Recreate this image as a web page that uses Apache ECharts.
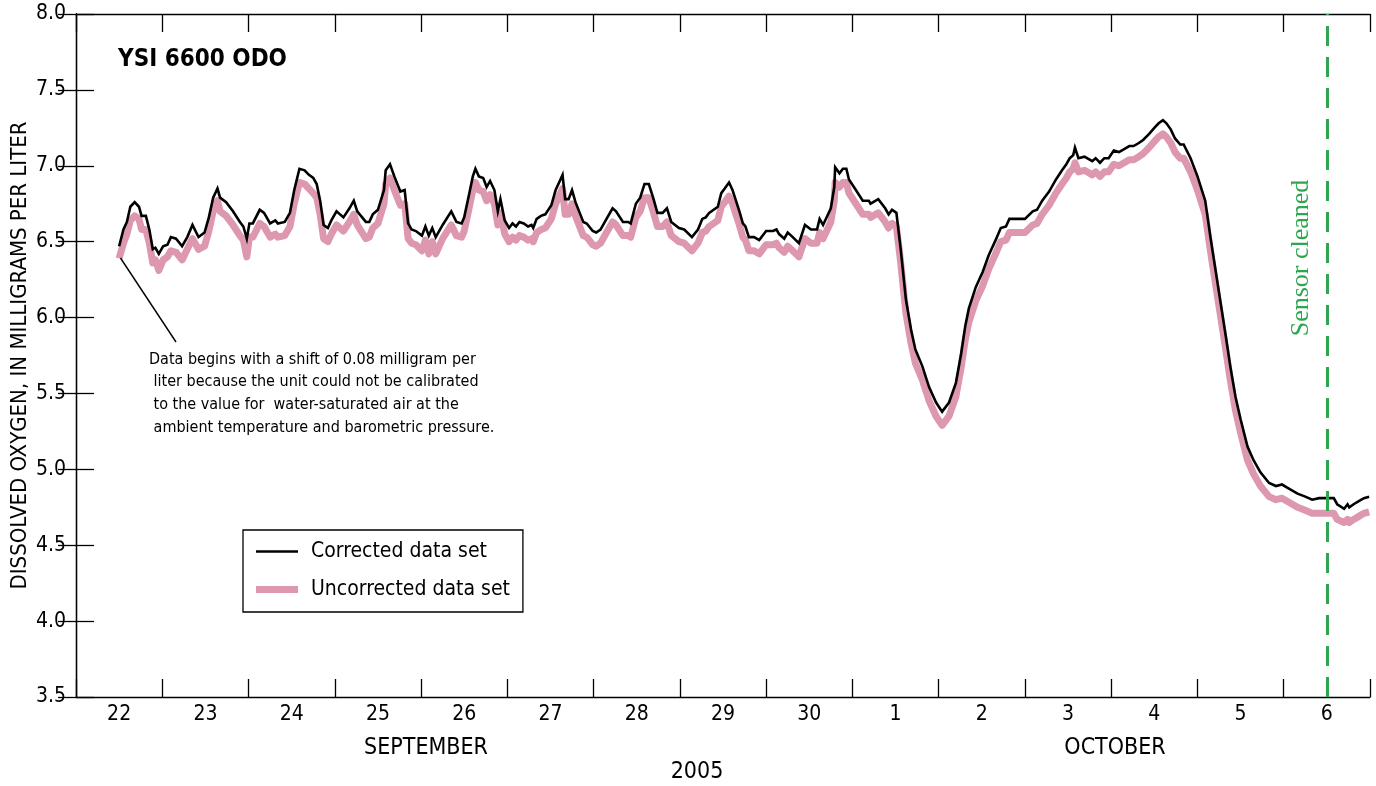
<!DOCTYPE html>
<html>
<head>
<meta charset="utf-8">
<script src="https://cdn.jsdelivr.net/npm/echarts@6/dist/echarts.min.js"></script>
<style>
html,body{margin:0;padding:0;background:#fff;}
#chart{width:1376px;height:786px;}
</style>
</head>
<body>
<div id="chart"></div>
<script>
// Time in days since 22 September 2005 00:00
const days = [
0.50,0.55,0.59,0.63,0.68,0.73,0.76,0.81,0.85,0.89,
0.92,0.96,1.01,1.06,1.10,1.16,1.23,1.29,1.35,1.42,
1.49,1.54,1.59,1.64,1.67,1.74,1.82,1.90,1.94,1.98,
2.01,2.05,2.13,2.18,2.25,2.31,2.34,2.42,2.48,2.53,
2.59,2.65,2.70,2.75,2.79,2.83,2.87,2.92,2.96,3.02,
3.10,3.17,3.22,3.26,3.36,3.40,3.44,3.50,3.57,3.59,
3.64,3.69,3.76,3.81,3.85,3.89,3.94,4.01,4.05,4.09,
4.13,4.17,4.25,4.35,4.41,4.47,4.50,4.56,4.60,4.63,
4.67,4.72,4.76,4.80,4.85,4.89,4.92,4.97,5.02,5.06,
5.10,5.14,5.19,5.24,5.28,5.30,5.34,5.39,5.44,5.51,
5.56,5.60,5.64,5.67,5.71,5.75,5.79,5.88,5.92,5.99,
6.03,6.08,6.14,6.22,6.26,6.34,6.40,6.43,6.49,6.54,
6.59,6.64,6.69,6.74,6.80,6.85,6.90,6.99,7.05,7.14,
7.21,7.26,7.30,7.34,7.44,7.48,7.52,7.57,7.61,7.65,
7.69,7.73,7.76,7.80,7.86,7.92,8.00,8.08,8.12,8.15,
8.21,8.25,8.29,8.38,8.45,8.52,8.59,8.62,8.66,8.75,
8.79,8.80,8.85,8.89,8.93,8.96,9.04,9.12,9.19,9.21,
9.30,9.38,9.42,9.46,9.51,9.56,9.62,9.68,9.73,9.81,
9.89,9.97,10.04,10.12,10.20,10.26,10.31,10.35,10.43,10.51,
10.58,10.66,10.72,10.78,10.82,10.89,11.00,11.09,11.14,11.20,
11.28,11.36,11.43,11.48,11.52,11.56,11.58,11.62,11.69,11.72,
11.78,11.82,11.87,11.92,11.97,12.03,12.09,12.15,12.21,12.26,
12.32,12.37,12.44,12.50,12.55,12.60,12.64,12.69,12.74,12.80,
12.84,12.92,13.00,13.09,13.15,13.21,13.27,13.33,13.38,13.44,
13.50,13.58,13.65,13.73,13.83,13.91,13.98,14.04,14.16,14.25,
14.33,14.41,14.48,14.58,14.62,14.70,14.74,14.76,14.81,14.87,
14.93,14.99
];

const corrected = [
6.47,6.58,6.63,6.73,6.76,6.73,6.67,6.67,6.58,6.45,
6.46,6.42,6.47,6.48,6.53,6.52,6.47,6.53,6.61,6.53,
6.56,6.66,6.79,6.85,6.79,6.76,6.70,6.63,6.60,6.52,
6.62,6.62,6.71,6.69,6.62,6.64,6.62,6.63,6.69,6.84,
6.98,6.97,6.94,6.92,6.88,6.77,6.61,6.59,6.64,6.70,
6.66,6.72,6.77,6.70,6.63,6.63,6.68,6.71,6.84,6.97,
7.01,6.93,6.83,6.84,6.62,6.58,6.57,6.54,6.60,6.54,
6.59,6.53,6.61,6.70,6.63,6.62,6.66,6.82,6.93,6.98,
6.93,6.92,6.86,6.90,6.84,6.70,6.78,6.64,6.59,6.62,
6.60,6.63,6.62,6.60,6.61,6.59,6.65,6.67,6.68,6.74,
6.84,6.89,6.94,6.78,6.78,6.84,6.76,6.63,6.62,6.57,
6.56,6.58,6.64,6.72,6.70,6.63,6.63,6.62,6.75,6.79,
6.88,6.88,6.79,6.69,6.69,6.72,6.63,6.59,6.58,6.53,
6.58,6.65,6.66,6.69,6.73,6.82,6.85,6.89,6.84,6.77,
6.70,6.62,6.60,6.53,6.53,6.51,6.57,6.57,6.58,6.55,
6.52,6.56,6.54,6.49,6.61,6.58,6.58,6.65,6.61,6.72,
6.86,6.99,6.95,6.98,6.98,6.91,6.84,6.77,6.77,6.75,
6.78,6.72,6.68,6.71,6.69,6.45,6.12,5.92,5.79,5.68,
5.54,5.44,5.38,5.44,5.57,5.76,5.95,6.06,6.20,6.30,
6.41,6.51,6.59,6.60,6.65,6.65,6.65,6.70,6.71,6.77,
6.83,6.91,6.97,7.01,7.05,7.07,7.12,7.05,7.06,7.05,
7.03,7.05,7.02,7.05,7.05,7.10,7.09,7.11,7.13,7.13,
7.15,7.17,7.21,7.25,7.28,7.30,7.28,7.24,7.18,7.14,
7.14,7.05,6.93,6.77,6.53,6.31,6.09,5.87,5.68,5.48,
5.33,5.15,5.06,4.98,4.91,4.89,4.90,4.88,4.84,4.82,
4.80,4.81,4.81,4.81,4.77,4.74,4.77,4.75,4.77,4.79,
4.81,4.82
];

const uncorrected = [
6.39,6.49,6.55,6.64,6.67,6.65,6.58,6.58,6.49,6.36,
6.38,6.31,6.38,6.40,6.44,6.43,6.38,6.45,6.52,6.45,
6.47,6.57,6.70,6.77,6.70,6.67,6.61,6.54,6.51,6.40,
6.53,6.53,6.62,6.60,6.53,6.55,6.53,6.54,6.60,6.75,
6.89,6.88,6.85,6.82,6.79,6.68,6.52,6.50,6.55,6.61,
6.57,6.63,6.68,6.61,6.52,6.53,6.59,6.62,6.75,6.88,
6.92,6.84,6.74,6.75,6.52,6.49,6.48,6.44,6.51,6.42,
6.50,6.42,6.52,6.61,6.54,6.53,6.57,6.73,6.84,6.89,
6.84,6.83,6.77,6.81,6.75,6.61,6.69,6.55,6.50,6.53,
6.51,6.54,6.53,6.51,6.52,6.50,6.56,6.58,6.59,6.65,
6.75,6.80,6.85,6.68,6.68,6.75,6.67,6.54,6.53,6.48,
6.47,6.49,6.55,6.63,6.61,6.54,6.54,6.53,6.66,6.70,
6.79,6.79,6.70,6.60,6.60,6.63,6.54,6.50,6.49,6.44,
6.49,6.56,6.57,6.60,6.64,6.73,6.76,6.80,6.75,6.68,
6.61,6.53,6.51,6.44,6.44,6.42,6.48,6.48,6.49,6.46,
6.43,6.47,6.45,6.40,6.52,6.49,6.49,6.56,6.52,6.63,
6.77,6.89,6.86,6.89,6.89,6.82,6.75,6.68,6.68,6.66,
6.69,6.63,6.59,6.62,6.60,6.36,6.03,5.83,5.70,5.59,
5.45,5.35,5.29,5.35,5.48,5.67,5.86,5.97,6.11,6.21,
6.32,6.42,6.50,6.51,6.56,6.56,6.56,6.61,6.62,6.68,
6.74,6.82,6.88,6.92,6.96,6.98,7.02,6.96,6.97,6.96,
6.94,6.96,6.93,6.96,6.96,7.01,7.00,7.02,7.04,7.04,
7.06,7.08,7.12,7.16,7.19,7.21,7.19,7.15,7.09,7.05,
7.05,6.96,6.84,6.68,6.44,6.22,6.00,5.78,5.59,5.39,
5.24,5.06,4.97,4.89,4.82,4.80,4.81,4.79,4.75,4.73,
4.71,4.71,4.71,4.71,4.67,4.65,4.67,4.65,4.67,4.69,
4.71,4.72
];

const dayLabels = ['22','23','24','25','26','27','28','29','30','1','2','3','4','5','6'];
const seriesNames = ['Corrected data set', 'Uncorrected data set'];
const sensorCleanedDay = 14.5;

const FONT = '"Liberation Sans Narrow","DejaVu Sans Condensed","Arial Narrow",sans-serif';

const pairs = (xs, ys) => xs.map((x, i) => [x, ys[i]]);

const chart = echarts.init(document.getElementById('chart'), null, {renderer: 'canvas'});

const axisLineStyle = {color: '#000', width: 1.3};

// legend icons: horizontal bars of the series' line thickness inside a 42x20 box
const iconThin = 'path://M0,0 M42,20 M0,8.7 L42,8.7 L42,11.3 L0,11.3 Z';
const iconThick = 'path://M0,0 M42,20 M0,6.6 L42,6.6 L42,13.4 L0,13.4 Z';

chart.setOption({
  animation: false,
  backgroundColor: '#fff',
  grid: {left: 76, right: 6, top: 14, bottom: 89, containLabel: false, outerBoundsMode: 'none'},
  legend: {
    data: [
      {name: seriesNames[0], icon: iconThin},
      {name: seriesNames[1], icon: iconThick}
    ],
    orient: 'vertical',
    left: 243,
    top: 530,
    padding: [11, 13, 12, 13],
    itemGap: 17,
    itemWidth: 42,
    itemHeight: 20,
    symbolKeepAspect: false,
    borderColor: '#000',
    borderWidth: 1.3,
    backgroundColor: '#fff',
    textStyle: {fontFamily: FONT, fontSize: 21, color: '#000', padding: [0, 0, 0, 8]}
  },
  xAxis: [
    {
      type: 'value', min: 0, max: 15, interval: 1, position: 'bottom',
      axisLine: {show: true, lineStyle: axisLineStyle},
      axisTick: {show: true, inside: true, length: 18, lineStyle: axisLineStyle},
      axisLabel: {show: false}, splitLine: {show: false}
    },
    {
      type: 'value', min: 0, max: 15, interval: 1, position: 'top',
      axisLine: {show: true, lineStyle: axisLineStyle},
      axisTick: {show: true, inside: true, length: 18, lineStyle: axisLineStyle},
      axisLabel: {show: false}, splitLine: {show: false}
    },
    {
      type: 'category', data: dayLabels, position: 'bottom', boundaryGap: true,
      axisLine: {show: false}, axisTick: {show: false}, splitLine: {show: false},
      axisLabel: {show: true, margin: 7, fontFamily: FONT, fontSize: 21, color: '#000', interval: 0}
    }
  ],
  yAxis: [
    {
      type: 'value', min: 3.5, max: 8, interval: 0.5, position: 'left',
      name: 'DISSOLVED OXYGEN, IN MILLIGRAMS PER LITER',
      nameLocation: 'middle', nameGap: 45, nameMoveOverlap: false,
      nameTextStyle: {fontFamily: FONT, fontSize: 22, color: '#000'},
      axisLine: {show: true, lineStyle: axisLineStyle},
      axisTick: {show: true, inside: true, length: 18, lineStyle: axisLineStyle},
      axisLabel: {show: true, margin: 10, fontFamily: FONT, fontSize: 21, color: '#000',
                  padding: [5, 0, 0, 0],
                  formatter: v => v.toFixed(1)},
      splitLine: {show: false}
    },
    {
      type: 'value', min: 3.5, max: 8, interval: 0.5, position: 'right',
      axisLine: {show: true, lineStyle: axisLineStyle},
      axisTick: {show: true, inside: true, length: 18, lineStyle: axisLineStyle},
      axisLabel: {show: false}, splitLine: {show: false}
    }
  ],
  series: [
    {
      name: seriesNames[1], type: 'line', xAxisIndex: 0, yAxisIndex: 0,
      data: pairs(days, uncorrected), symbol: 'none', showSymbol: false,
      lineStyle: {color: '#dd97ae', width: 7, join: 'round'},
      itemStyle: {color: '#dd97ae'},
      z: 2, silent: true
    },
    {
      name: seriesNames[0], type: 'line', xAxisIndex: 0, yAxisIndex: 0,
      data: pairs(days, corrected), symbol: 'none', showSymbol: false,
      lineStyle: {color: '#000', width: 2.6, join: 'miter'},
      itemStyle: {color: '#000'},
      z: 3, silent: true,
      markLine: {
        silent: true, symbol: 'none',
        label: {show: false},
        lineStyle: {color: '#2ea64f', width: 3, type: [20, 11]},
        data: [{xAxis: sensorCleanedDay}]
      }
    }
  ],
  graphic: [
    {type: 'text', left: 118, top: 48, z: 10,
     style: {text: 'YSI 6600 ODO', fontFamily: FONT, fontWeight: 'bold', fontSize: 24, fill: '#000'}},
    {type: 'line', z: 10,
     shape: {x1: 120.5, y1: 258, x2: 176, y2: 342},
     style: {stroke: '#000', lineWidth: 1.4}},
    {type: 'text', left: 149, top: 348, z: 10,
     style: {text: 'Data begins with a shift of 0.08 milligram per\n liter because the unit could not be calibrated\n to the value for  water-saturated air at the\n ambient temperature and barometric pressure.',
             fontFamily: FONT, fontSize: 16, lineHeight: 22.7, fill: '#000'}},
    {type: 'text', x: 1301, y: 258, rotation: Math.PI / 2, z: 10,
     style: {text: 'Sensor cleaned', fontFamily: '"Liberation Serif","DejaVu Serif",serif', fontSize: 26,
             fill: '#2ea64f', align: 'center', verticalAlign: 'middle'}},
    {type: 'text', x: 426, y: 748, z: 10,
     style: {text: 'SEPTEMBER', fontFamily: FONT, fontSize: 23, fill: '#000', align: 'center', verticalAlign: 'middle'}},
    {type: 'text', x: 1115, y: 748, z: 10,
     style: {text: 'OCTOBER', fontFamily: FONT, fontSize: 23, fill: '#000', align: 'center', verticalAlign: 'middle'}},
    {type: 'text', x: 697, y: 772, z: 10,
     style: {text: '2005', fontFamily: FONT, fontSize: 23, fill: '#000', align: 'center', verticalAlign: 'middle'}}
  ]
});
</script>
</body>
</html>
